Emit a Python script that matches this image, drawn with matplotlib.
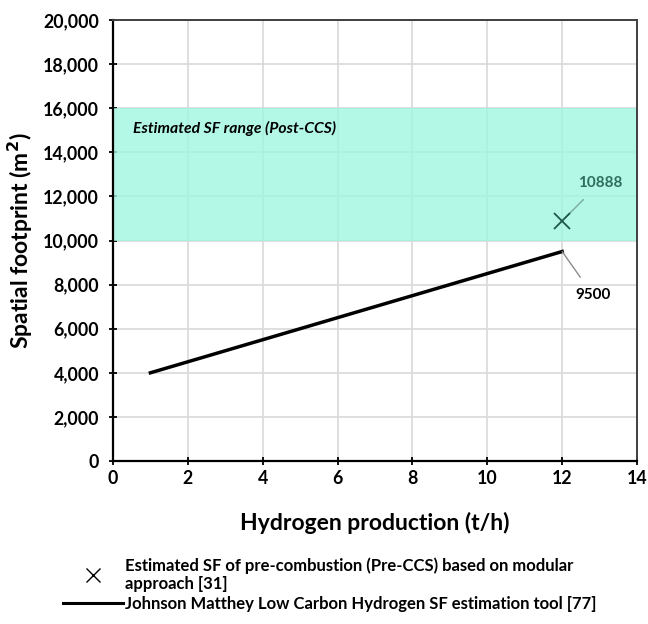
import numpy as np
import matplotlib.pyplot as plt
from matplotlib.lines import Line2D

plt.rcParams['font.family'] = ['Lato', 'DejaVu Sans']
plt.rcParams['font.weight'] = 'bold'

# JM estimation tool line (t/h vs m2)
jm_prod = [1, 12]
jm_sf = [4000, 9500]

# modular pre-CCS estimate
pre_prod = [12]
pre_sf = [10888]

# post-CCS band
band_lo, band_hi = 10000, 16000

xticks = np.arange(0, 15, 2)
yticks = np.arange(0, 20001, 2000)

fig = plt.figure(figsize=(6.48, 6.24), dpi=100)
ax = fig.add_axes([113 / 648, 1 - 461 / 624, 524 / 648, 441 / 624])

ax.grid(True, color='#d9d9d9', lw=1.2, zorder=0)
ax.set_axisbelow(True)
# translucent band so grid shows through
ax.axhspan(band_lo, band_hi, facecolor=(160 / 255, 245 / 255, 224 / 255), alpha=0.8,
           lw=0, zorder=1)

ax.plot(jm_prod, jm_sf, color='black', lw=2.5, zorder=3)
ax.plot(pre_prod, pre_sf, 'x', color='#1d5a4a', ms=12, mew=1.3, zorder=4)

ax.set_xlim(0, 14)
ax.set_ylim(0, 20000)
ax.set_xticks(xticks)
ax.set_yticks(yticks)
ax.set_yticklabels([f'{v:,}' for v in yticks])
ax.tick_params(labelsize=12.8, direction='inout', length=6, width=1.3)
ax.tick_params(axis='y', pad=7)

for s in ['left', 'bottom']:
    ax.spines[s].set_linewidth(1.6)
    ax.spines[s].set_color('black')
for s in ['top', 'right']:
    ax.spines[s].set_linewidth(1.4)
    ax.spines[s].set_color('#404040')

ax.set_xlabel('Hydrogen production (t/h)', fontsize=16.5, fontweight='bold', labelpad=18)
ax.set_ylabel('Spatial footprint (m$^\\mathbf{2}$)', fontsize=16.5, fontweight='bold', labelpad=6)

ax.text(0.53, 15100, 'Estimated SF range (Post-CCS)', fontsize=11.3, fontweight='bold',
        style='italic', color='black', va='center')

# value callouts
ax.annotate(f'{pre_sf[0]}', xy=(pre_prod[0], pre_sf[0]), xytext=(13.01, 12610),
            fontsize=11, fontweight='bold', color='#2f6e5c', ha='center', va='center',
            arrowprops=dict(arrowstyle='-', color='#7aa89a', lw=1, shrinkA=7, shrinkB=3))
ax.annotate(f'{jm_sf[1]}', xy=(jm_prod[1], jm_sf[1]), xytext=(12.82, 7530),
            fontsize=11, fontweight='bold', color='black', ha='center', va='center',
            arrowprops=dict(arrowstyle='-', color='#8c8c8c', lw=1, shrinkA=7, shrinkB=0))

handles = [
    Line2D([], [], marker='x', color='black', ls='none', ms=10, mew=1),
    Line2D([], [], color='black', lw=2.2),
]
labels = [
    'Estimated SF of pre-combustion (Pre-CCS) based on modular\napproach [31]',
    'Johnson Matthey Low Carbon Hydrogen SF estimation tool [77]',
]
leg = fig.legend(handles, labels, loc='upper left', bbox_to_anchor=(48 / 648, 1 - 542 / 624),
                 frameon=False, prop=dict(size=12, weight='bold'),
                 handlelength=3.6, handletextpad=0.1, labelspacing=0.25)

fig.savefig('out.png', dpi=100)
